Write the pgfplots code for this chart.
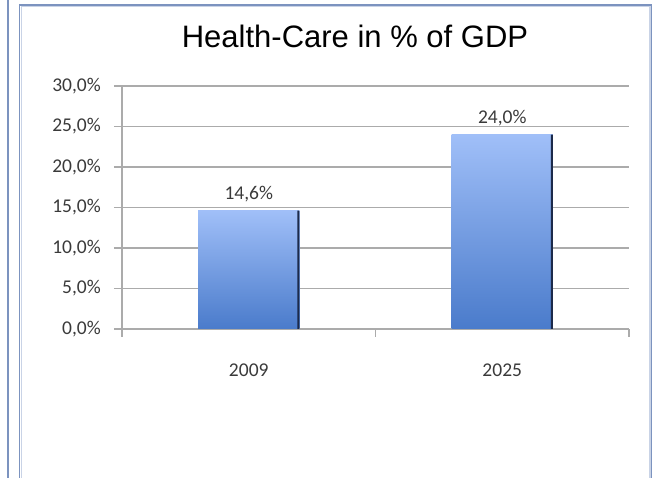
\documentclass[border=0pt]{standalone}
\usepackage{pgfplots}
\pgfplotsset{compat=1.18}
\usepackage{fontspec}
\setmainfont{Carlito}
\newfontfamily\titlefont{Liberation Sans}
\definecolor{barTop}{HTML}{A0BFF8}
\definecolor{barBot}{HTML}{4A7BCB}
\definecolor{barEdge}{HTML}{1C2A4A}
\definecolor{gridc}{HTML}{ABABAB}
\definecolor{labc}{HTML}{3A3A3A}
\definecolor{frameA}{HTML}{7C93BF}
\definecolor{frameB}{HTML}{C9D3E6}
\begin{document}
\begin{tikzpicture}
\path[use as bounding box] (0,0) rectangle (654bp,478bp);
% window frame
\draw[frameA, line width=1.6bp] (8bp,0) -- (8bp,478bp);
\draw[frameA, line width=1.2bp] (19.5bp,0) -- (19.5bp,473bp) -- (651.5bp,473bp) -- (651.5bp,0);
\draw[frameB, line width=1.4bp] (21.5bp,0) -- (21.5bp,471.5bp) -- (650bp,471.5bp) -- (650bp,0);
\begin{axis}[
  at={(122bp,149bp)}, anchor=south west,
  scale only axis, width=507bp, height=243bp,
  xmin=-0.5, xmax=1.5, ymin=0, ymax=30,
  axis x line*=bottom, axis y line*=left,
  axis line style={gridc, line width=1.2bp},
  xtick={0,1}, xticklabels={2009,2025},
  major x tick style={draw=none},
  minor xtick={-0.5,0.5,1.5},
  minor x tick style={gridc, line width=1.2bp},
  minor tick length=8bp,
  ytick={0,5,...,30},
  major tick length=8bp,
  major y tick style={gridc, line width=1.2bp},
  tick align=outside,
  ymajorgrids, grid style={gridc, line width=1.2bp},
  ticklabel style={font=\fontsize{19.5bp}{22bp}\selectfont, text=labc},
  yticklabel style={inner sep=0pt, xshift=-13bp},
  xticklabel style={anchor=base, inner sep=0pt, yshift=-39bp},
  yticklabel={\pgfmathprintnumber[fixed,fixed zerofill,precision=1,use comma,assume math mode=true]{\tick}\%},
  ybar, bar width=0.4,
  clip=false,
  nodes near coords={\pgfmathprintnumber[fixed,fixed zerofill,precision=1,use comma,assume math mode=true]{\pgfplotspointmeta}\%},
  every node near coord/.append style={anchor=base, inner sep=0pt, yshift=11bp, font=\fontsize{19.5bp}{22bp}\selectfont, text=labc},
]
\addplot[bar shift=0, draw=none, top color=barTop, bottom color=barBot]
  coordinates {(0,14.6)};
\addplot[bar shift=0, draw=none, top color=barTop, bottom color=barBot]
  coordinates {(1,24.0)};
\addplot[bar shift=0.196, bar width=0.008, draw=none, fill=barEdge, nodes near coords={}]
  coordinates {(0,14.6) (1,24.0)};
\end{axis}
\node[anchor=base, font=\titlefont\fontsize{31bp}{36bp}\selectfont] at (355bp,430bp) {Health-Care in \% of GDP};
\end{tikzpicture}
\end{document}
